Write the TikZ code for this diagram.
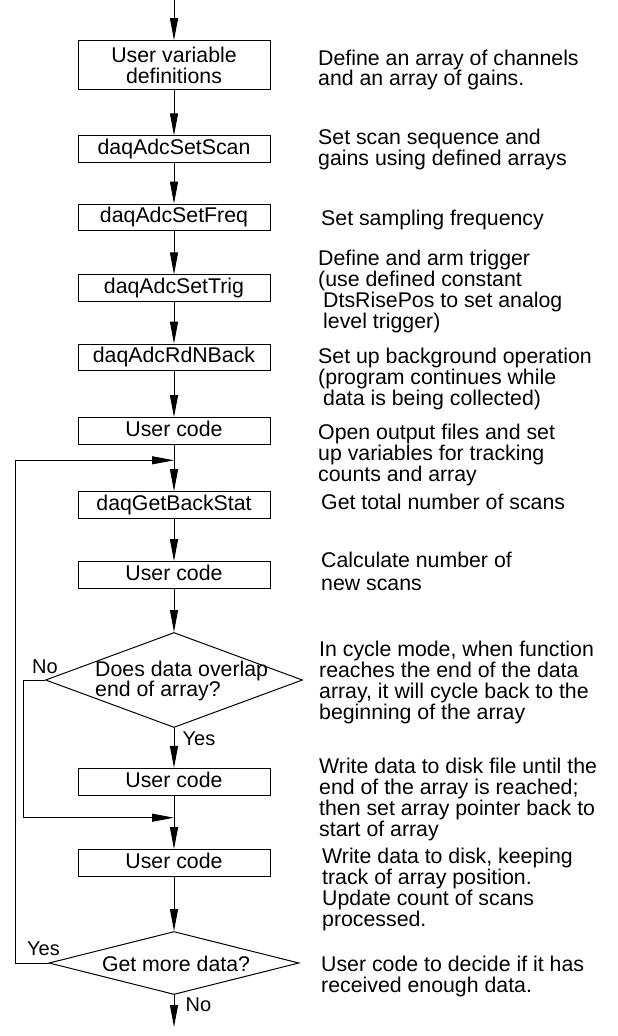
\documentclass[tikz,border=0pt]{standalone}
\usepackage{fontspec}
\setmainfont{Liberation Sans}
\usetikzlibrary{arrows.meta,shapes.geometric}

\begin{document}
\begin{tikzpicture}[x=1pt,y=-1pt,
  txt/.style={font=\fontsize{21.3}{20.8}\selectfont},
  flowbox/.style={txt,draw,line width=1pt,minimum width=192pt,minimum height=26.7pt,
    inner sep=0pt,text height=15.3pt,text depth=4.5pt},
  bigbox/.style={txt,draw,line width=1pt,minimum width=192pt,minimum height=48.6pt,
    inner sep=0pt,align=center,font=\fontsize{21.3}{21}\selectfont},
  decision/.style={diamond,draw,line width=1pt,inner sep=0pt},
  note/.style={txt,anchor=north west,inner sep=0pt,align=left},
  branch/.style={txt,inner sep=0pt,font=\fontsize{20}{20}\selectfont},
  flow/.style={draw,line width=1pt,-{Triangle[length=22pt,width=8pt]}}
]
\useasboundingbox (0,0) rectangle (618,1036);

% process boxes and decisions
\node[bigbox]  (b1)  at (174,65)    {User variable\\definitions};
\node[flowbox] (b2)  at (174,149.3) {daqAdcSetScan};
\node[flowbox] (b3)  at (174,217.5) {daqAdcSetFreq};
\node[flowbox] (b4)  at (174,288.3) {daqAdcSetTrig};
\node[flowbox] (b5)  at (174,357.5) {daqAdcRdNBack};
\node[flowbox] (b6)  at (174,431)   {User code};
\node[flowbox] (b7)  at (174,505)   {daqGetBackStat};
\node[flowbox] (b8)  at (174,575)   {User code};
\node[decision,minimum width=257pt,minimum height=95pt] (d1) at (174,680) {};
\node[txt,anchor=west,align=left,inner sep=0pt,font=\fontsize{21.3}{17}\selectfont]
  (d1t) at (95,681) {Does data overlap\\end of array?};
\node[flowbox] (b9)  at (174,781.7) {User code};
\node[flowbox] (b10) at (174,863)   {User code};
\node[decision,minimum width=250pt,minimum height=63pt] (d2) at (174,963) {};
\node[txt,inner sep=0pt] (d2t) at (176,964) {Get more data?};

% connector end points
\coordinate (top) at (174,0);
\coordinate (bot) at (174,1027);
\coordinate (j1) at (174,460.3);
\coordinate (j2) at (174,817.7);
\coordinate (c1) at (15.5,460.3);
\coordinate (c2) at (23.3,817.7);

% main flow
\draw[flow] (top) -- (b1);
\draw[flow] (b1) -- (b2);
\draw[flow] (b2) -- (b3);
\draw[flow] (b3) -- (b4);
\draw[flow] (b4) -- (b5);
\draw[flow] (b5) -- (b6);
\draw[flow] (b6) -- (b7);
\draw[flow] (b7) -- (b8);
\draw[flow] (b8) -- (d1);
\draw[flow] (d1) -- (b9);
\draw[flow] (b9) -- (b10);
\draw[flow] (b10) -- (d2);
\draw[flow] (d2) -- (bot);

% loop-backs
\draw[flow] (d2.west) -| (c1) -- (j1);
\draw[flow] (d1.west) -| (c2) -- (j2);

% branch labels
\node[branch] (no1)  at (45,667)    {No};
\node[branch] (yes1) at (199,739)   {Yes};
\node[branch] (yes2) at (43.5,949)  {Yes};
\node[branch] (no2)  at (198.5,1005) {No};

% descriptions
\node[note] (t1)  at (318,49.5) {Define an array of channels\\and an array of gains.};
\node[note] (t2)  at (318,129)  {Set scan sequence and\\gains using defined arrays};
\node[note] (t3)  at (321,210)  {Set sampling frequency};
\node[note] (t4)  at (318,250)  {Define and arm trigger\\(use defined constant\\\hspace*{5pt}DtsRisePos to set analog\\\hspace*{5pt}level trigger)};
\node[note] (t5)  at (318,348)  {Set up background operation\\(program continues while\\\hspace*{5pt}data is being collected)};
\node[note] (t6)  at (318,424)  {Open output files and set\\up variables for tracking\\counts and array};
\node[note] (t7)  at (321,494)  {Get total number of scans};
\node[note] (t8)  at (321,552)  {Calculate number of\\[2pt]new scans};
\node[note] (t9)  at (319,641)  {In cycle mode, when function\\reaches the end of the data\\array, it will cycle back to the\\beginning of the array};
\node[note] (t10) at (319,758)  {Write data to disk file until the\\end of the array is reached;\\then set array pointer back to\\start of array};
\node[note] (t11) at (322,848)  {Write data to disk, keeping\\track of array position.\\Update count of scans\\processed.};
\node[note] (t12) at (321,956)  {User code to decide if it has\\received enough data.};
\end{tikzpicture}
\end{document}
